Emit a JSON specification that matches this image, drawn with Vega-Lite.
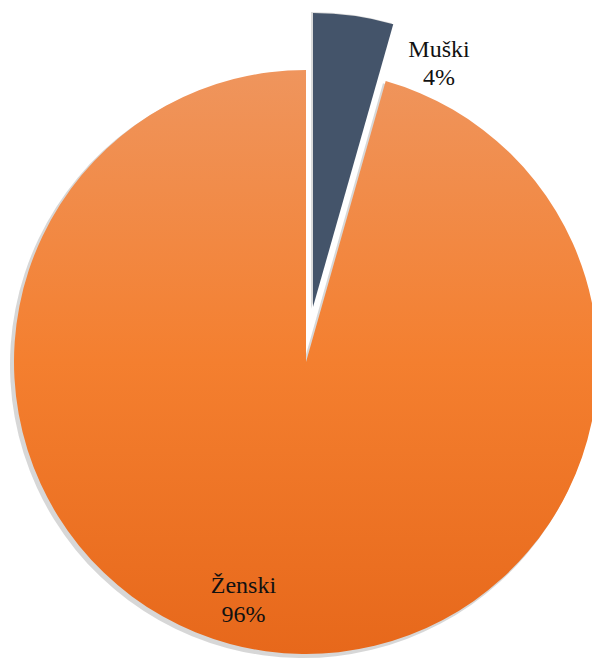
{
  "$schema": "https://vega.github.io/schema/vega-lite/v6.json",
  "width": 572,
  "height": 660,
  "autosize": {"type": "none"},
  "padding": {"left": 20, "top": 32, "right": 0, "bottom": 0},
  "background": "white",
  "view": {"stroke": null},
  "data": {"values": [
    {"category": "Muški", "value": 4.4, "label": "Muški\n4%"},
    {"category": "Ženski", "value": 95.6, "label": "Ženski\n96%"}
  ]},
  "layer": [
    {
      "transform": [
        {"stack": "value", "groupby": [], "sort": [{"field": "category", "order": "ascending"}], "as": ["v0", "v1"]},
        {"filter": "datum.category === 'Ženski'"}
      ],
      "mark": {"type": "arc", "radius": 293, "color": "#9a9a9a", "opacity": 0.4, "xOffset": -3, "yOffset": 3},
      "encoding": {
        "theta": {"field": "v0", "type": "quantitative", "scale": {"domain": [0, 100]}},
        "theta2": {"field": "v1"}
      }
    },
    {
      "transform": [
        {"stack": "value", "groupby": [], "sort": [{"field": "category", "order": "ascending"}], "as": ["v0", "v1"]},
        {"filter": "datum.category === 'Ženski'"}
      ],
      "mark": {
        "type": "arc",
        "radius": 292,
        "color": {
          "gradient": "linear", "x1": 0, "y1": 0, "x2": 0, "y2": 1,
          "stops": [
            {"offset": 0, "color": "#EF955D"},
            {"offset": 0.5, "color": "#F47F2F"},
            {"offset": 1, "color": "#E7681B"}
          ]
        }
      },
      "encoding": {
        "theta": {"field": "v0", "type": "quantitative", "scale": {"domain": [0, 100]}},
        "theta2": {"field": "v1"}
      }
    },
    {
      "transform": [
        {"stack": "value", "groupby": [], "sort": [{"field": "category", "order": "ascending"}], "as": ["v0", "v1"]},
        {"filter": "datum.category === 'Muški'"}
      ],
      "mark": {"type": "arc", "radius": 297, "color": "#b0b0b0", "opacity": 0.45, "xOffset": 5, "yOffset": -53},
      "encoding": {
        "theta": {"field": "v0", "type": "quantitative", "scale": {"domain": [0, 100]}},
        "theta2": {"field": "v1"}
      }
    },
    {
      "transform": [
        {"stack": "value", "groupby": [], "sort": [{"field": "category", "order": "ascending"}], "as": ["v0", "v1"]},
        {"filter": "datum.category === 'Muški'"}
      ],
      "mark": {"type": "arc", "radius": 294, "color": "#44546A", "xOffset": 7, "yOffset": -55},
      "encoding": {
        "theta": {"field": "v0", "type": "quantitative", "scale": {"domain": [0, 100]}},
        "theta2": {"field": "v1"}
      }
    },
    {
      "transform": [
        {"stack": "value", "groupby": [], "sort": [{"field": "category", "order": "ascending"}], "as": ["v0", "v1"]},
        {"filter": "datum.category === 'Muški'"}
      ],
      "mark": {"type": "text", "radius": 305, "dx": 133, "align": "center", "baseline": "alphabetic", "lineBreak": "\n", "lineHeight": 28, "font": "Liberation Serif", "fontSize": 24, "color": "#111111"},
      "encoding": {
        "theta": {"field": "v0", "type": "quantitative", "scale": {"domain": [0, 100]}},
        "text": {"field": "label"}
      }
    },
    {
      "transform": [
        {"filter": "datum.category === 'Ženski'"}
      ],
      "mark": {"type": "text", "radius": 235, "dx": -95, "dy": -2, "align": "center", "baseline": "alphabetic", "lineBreak": "\n", "lineHeight": 29, "font": "Liberation Serif", "fontSize": 24, "color": "#111111"},
      "encoding": {
        "theta": {"field": "value", "type": "quantitative", "stack": true, "scale": {"domain": [0, 100]}},
        "text": {"field": "label"}
      }
    }
  ]
}
